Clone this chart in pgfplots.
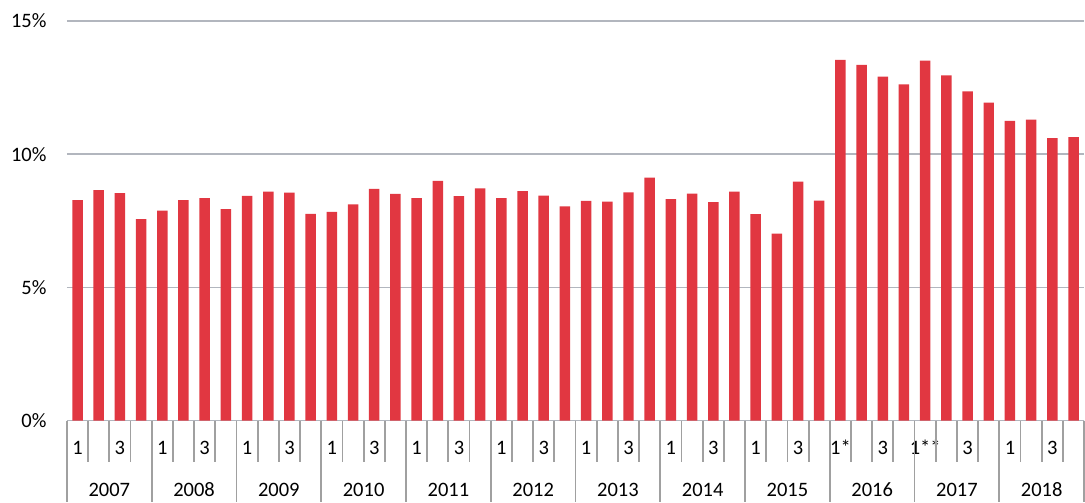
\documentclass[border=0pt]{standalone}
\usepackage{pgfplots}
\pgfplotsset{compat=1.18}
\usepackage{fontspec}
\setmainfont{Carlito}
\definecolor{barred}{RGB}{225,55,65}
\definecolor{gridgray}{RGB}{178,182,190}
\definecolor{sepgray}{RGB}{160,160,160}

\begin{document}
\begin{tikzpicture}
\begin{axis}[
    scale only axis,
    width=1018pt, height=400pt,
    xmin=-0.5, xmax=47.5,
    ymin=0, ymax=15,
    clip=false,
    axis line style={draw=none},
    ymajorgrids, grid style={gridgray, line width=1.5pt},
    major tick length=0pt,
    ytick={0,5,10,15},
    yticklabels={0\%,5\%,10\%,15\%},
    yticklabel style={xshift=-17pt},
    xtick={0,...,47},
    xticklabels={1,,3,,1,,3,,1,,3,,1,,3,,1,,3,,1,,3,,1,,3,,1,,3,,1,,3,,1*,,3,,1**,,3,,1,,3,},
    xticklabel style={anchor=base, yshift=-34pt},
    tick label style={font=\fontsize{20.5}{24}\selectfont},
    ybar, bar width=10.5pt,
]
\addplot[fill=barred, draw=none] coordinates {
    (0,8.28) (1,8.65) (2,8.54) (3,7.56)
    (4,7.88) (5,8.28) (6,8.35) (7,7.94)
    (8,8.44) (9,8.60) (10,8.56) (11,7.76)
    (12,7.84) (13,8.12) (14,8.70) (15,8.51)
    (16,8.35) (17,9.00) (18,8.43) (19,8.72)
    (20,8.35) (21,8.61) (22,8.45) (23,8.04)
    (24,8.25) (25,8.22) (26,8.57) (27,9.12)
    (28,8.31) (29,8.52) (30,8.20) (31,8.60)
    (32,7.75) (33,7.02) (34,8.97) (35,8.26)
    (36,13.54) (37,13.35) (38,12.91) (39,12.62)
    (40,13.51) (41,12.96) (42,12.36) (43,11.94)
    (44,11.25) (45,11.30) (46,10.60) (47,10.64)
};
% category separators
\pgfplotsinvokeforeach{0,...,48}{
    \draw[sepgray, line width=1.8pt] (axis cs:#1-0.5,0) -- ++(0pt,-41pt);
}
\pgfplotsinvokeforeach{0,...,12}{
    \draw[sepgray, line width=1.8pt] (axis cs:4*#1-0.5,0) -- ++(0pt,-81pt);
}
% year labels
\pgfplotsinvokeforeach{0,...,11}{
    \node[anchor=base, font=\fontsize{20.5}{24}\selectfont] at (axis cs:4*#1+1.5,0) [yshift=-76pt] {\pgfmathparse{int(2007+#1)}\pgfmathresult};
}
\end{axis}
\path[use as bounding box] (-67pt,-81pt) rectangle (1018pt,421pt);
\end{tikzpicture}
\end{document}
